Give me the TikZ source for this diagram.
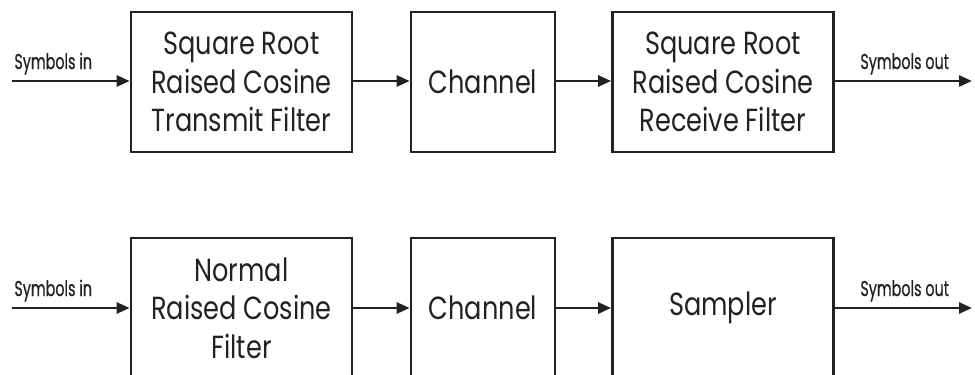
\documentclass[tikz,border=0pt]{standalone}
\usepackage{fontspec}
\setmainfont{Poppins}
\newfontfamily\boxfont{Poppins}[FakeStretch=0.8]
\newfontfamily\labfont{Poppins}[FakeStretch=0.67,FakeBold=0.6]
\usetikzlibrary{arrows.meta}
\definecolor{ink}{HTML}{222222}
\begin{document}
\begin{tikzpicture}[x=0.5pt,y=-0.5pt,
  blk/.style={draw=ink, line width=1.35pt, rectangle, inner sep=0pt,
    minimum height=70pt, align=center, text=ink,
    font=\boxfont\fontsize{16}{19.3}\selectfont},
  wide/.style={blk, minimum width=110.5pt},
  narrow/.style={blk, minimum width=72pt},
  conn/.style={draw=ink, line width=1.35pt, -{Triangle[length=6.5pt,width=5.5pt]}},
  lab/.style={anchor=base west, inner sep=0pt, text=ink, font=\labfont\fontsize{10.7}{12}\selectfont}]
\useasboundingbox (0,0) rectangle (975,375);
% top row
\coordinate (ti) at (12,81);
\coordinate (to) at (972,81);
\node[wide] (t1) at (241.5,82) {Square Root\\Raised Cosine\\Transmit Filter};
\node[narrow] (t2) at (483,82) {Channel};
\node[wide] (t3) at (723,82) {Square Root\\Raised Cosine\\Receive Filter};
\draw[conn] (ti) -- (ti -| t1.west);
\draw[conn] (t1.east |- ti) -- (t2.west |- ti);
\draw[conn] (t2.east |- ti) -- (t3.west |- ti);
\draw[conn] (t3.east |- to) -- (to);
\node[lab] (til) at (14,69) {Symbols in};
\node[lab] (tol) at (860,69) {Symbols out};
% bottom row
\coordinate (bi) at (12,308);
\coordinate (bo) at (972,308);
\node[wide] (b1) at (241.5,308) {Normal\\Raised Cosine\\Filter};
\node[narrow] (b2) at (483,308) {Channel};
\node[wide] (b3) at (723,308) {Sampler};
\draw[conn] (bi) -- (bi -| b1.west);
\draw[conn] (b1.east |- bi) -- (b2.west |- bi);
\draw[conn] (b2.east |- bi) -- (b3.west |- bi);
\draw[conn] (b3.east |- bo) -- (bo);
\node[lab] (bil) at (14,296) {Symbols in};
\node[lab] (bol) at (860,296) {Symbols out};
\end{tikzpicture}
\end{document}
